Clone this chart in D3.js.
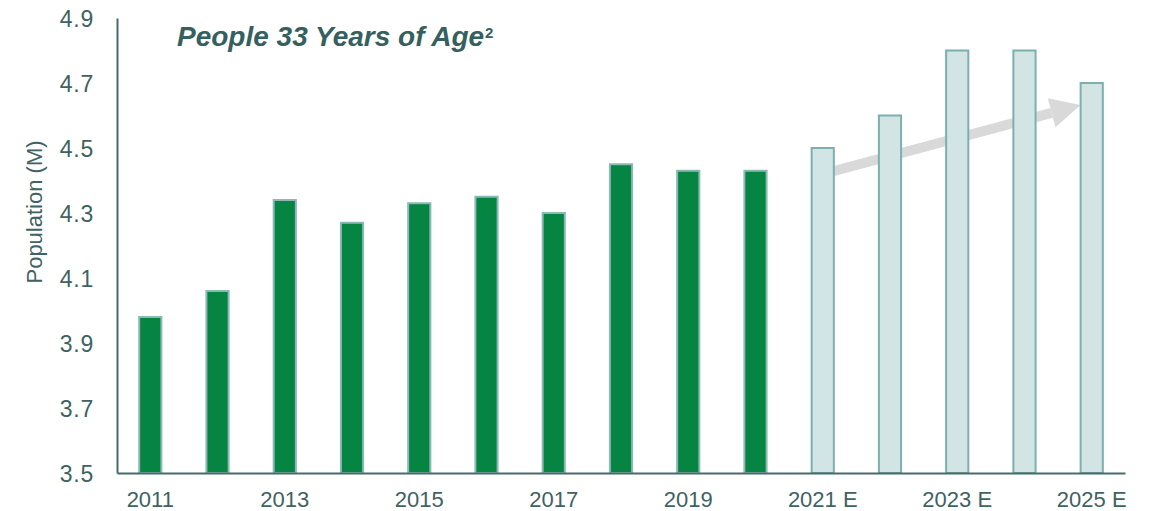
<!DOCTYPE html>
<html>
<head>
<meta charset="utf-8">
<script src="https://cdn.jsdelivr.net/npm/d3@7"></script>
<style>
  body { margin: 0; background: #fff; }
  #chart text { font-family: "Liberation Sans", Arial, sans-serif; fill: #3f6262; }
</style>
</head>
<body>
<div id="chart"></div>
<script>
var years = ["2011", "2012", "2013", "2014", "2015", "2016", "2017", "2018", "2019", "2020",
             "2021 E", "2022 E", "2023 E", "2024 E", "2025 E"];
var population = [3.98, 4.06, 4.34, 4.27, 4.33, 4.35, 4.30, 4.45, 4.43, 4.43,
                  4.50, 4.60, 4.80, 4.80, 4.70];
var yTicks = [3.5, 3.7, 3.9, 4.1, 4.3, 4.5, 4.7, 4.9];
var xTickLabels = ["2011", "2013", "2015", "2017", "2019", "2021 E", "2023 E", "2025 E"];
var trendArrow = [{year: "2021 E", value: 4.42}, {year: "2025 E", value: 4.632}];

var width = 1153, height = 511;
var margin = {top: 18, right: 28, bottom: 38, left: 117};

var svg = d3.select("#chart").append("svg")
    .attr("width", width)
    .attr("height", height);

var x = d3.scaleBand()
    .domain(years)
    .range([margin.left, width - margin.right])
    .paddingInner(0.67)
    .paddingOuter(0.33);

var y = d3.scaleLinear()
    .domain([3.5, 4.9])
    .range([height - margin.bottom, margin.top]);

var isEstimate = (i) => years[i].indexOf("E") > 0;

// trend arrow, drawn first so the bars sit on top of it
var x0 = x(trendArrow[0].year) + x.bandwidth() / 2, y0 = y(trendArrow[0].value);
var x1 = x(trendArrow[1].year), y1 = y(trendArrow[1].value);
var ang = Math.atan2(y1 - y0, x1 - x0);
var headLen = 30, headHalf = 15;
var bx = x1 - headLen * Math.cos(ang), by = y1 - headLen * Math.sin(ang);
var nx = -Math.sin(ang), ny = Math.cos(ang);

svg.append("line")
    .attr("x1", x0).attr("y1", y0)
    .attr("x2", bx).attr("y2", by)
    .attr("stroke", "#d9d9d9")
    .attr("stroke-width", 10);

svg.append("path")
    .attr("d", d3.line()([
      [x1, y1],
      [bx + nx * headHalf, by + ny * headHalf],
      [bx - nx * headHalf, by - ny * headHalf]
    ]) + "Z")
    .attr("fill", "#d9d9d9");

svg.selectAll("rect.bar")
    .data(population)
  .enter().append("rect")
    .attr("class", "bar")
    .attr("x", (d, i) => x(years[i]))
    .attr("y", (d) => y(d))
    .attr("width", x.bandwidth())
    .attr("height", (d) => y(3.5) - y(d))
    .attr("fill", (d, i) => isEstimate(i) ? "#d3e4e4" : "#058442")
    .attr("stroke", (d, i) => isEstimate(i) ? "#7bb0ae" : "#8cb8b6")
    .attr("stroke-width", 2);

var yAxis = d3.axisLeft(y)
    .tickValues(yTicks)
    .tickFormat(d3.format(".1f"))
    .tickSize(0)
    .tickPadding(23);

var gy = svg.append("g")
    .attr("transform", "translate(" + margin.left + ",0)")
    .call(yAxis);
gy.select(".domain").attr("stroke", "#476b6b").attr("stroke-width", 2);
gy.selectAll("text").attr("font-size", 23).attr("dy", "0.35em").attr("letter-spacing", 0.8);

var xAxis = d3.axisBottom(x)
    .tickValues(years.filter((d) => xTickLabels.indexOf(d) >= 0))
    .tickSize(0)
    .tickPadding(18);

var gx = svg.append("g")
    .attr("transform", "translate(0," + y(3.5) + ")")
    .call(xAxis);
gx.select(".domain").attr("stroke", "#476b6b").attr("stroke-width", 2);
gx.selectAll("text").attr("font-size", 22);

svg.append("text")
    .attr("transform", "translate(42," + 212 + ") rotate(-90)")
    .attr("text-anchor", "middle")
    .attr("font-size", 22)
    .text("Population (M)");

var title = svg.append("text")
    .attr("x", 177)
    .attr("y", 46)
    .attr("font-size", 28)
    .attr("font-weight", "bold")
    .attr("font-style", "italic")
    .style("fill", "#365f5f");
title.append("tspan").text("People 33 Years of Age");
title.append("tspan").attr("font-size", 15).attr("font-style", "normal").attr("dx", 1).attr("dy", -8).text("2");
</script>
</body>
</html>
